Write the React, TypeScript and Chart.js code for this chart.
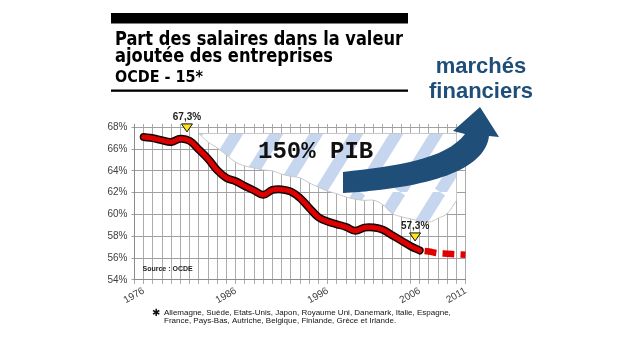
import React, { useEffect, useRef } from "react";
import { Chart, registerables } from "chart.js";

Chart.register(...registerables);

// ---- data ----
const years = [1976, 1977, 1978, 1979, 1980, 1981, 1982, 1983, 1984, 1985, 1986, 1987, 1988, 1989, 1990, 1991, 1992, 1993, 1994, 1995, 1996, 1997, 1998, 1999, 2000, 2001, 2002, 2003, 2004, 2005, 2006];
const wageShare = [67.1, 67.0, 66.8, 66.65, 66.95, 66.75, 65.95, 65.1, 64.05, 63.35, 63.05, 62.6, 62.2, 61.8, 62.25, 62.3, 62.1, 61.5, 60.6, 59.75, 59.35, 59.1, 58.85, 58.5, 58.8, 58.8, 58.6, 58.1, 57.6, 57.1, 56.7];
const projYears = [2006, 2007, 2008, 2009, 2010, 2011];
const projShare = [56.7, 56.6, 56.45, 56.4, 56.35, 56.3];
const hatchYears = [1982, 1983, 1984, 1985, 1986, 1987, 1988, 1989, 1990, 1991, 1992, 1993, 1994, 1995, 1996, 1997, 1998, 1999, 2000, 2001, 2002, 2003, 2004, 2005, 2006, 2007, 2008, 2009, 2010];
const hatchBottom = [67.43, 66.65, 66.1, 65.46, 64.8, 64.45, 64.27, 64.08, 64.0, 63.7, 63.5, 63.35, 62.9, 62.5, 62.15, 61.9, 61.6, 61.4, 61.3, 61.3, 60.9, 60.1, 59.8, 59.6, 59.4, 59.3, 59.65, 60.1, 61.3];
const hatchTopValue = 67.43;
const yTicks = [54, 56, 58, 60, 62, 64, 66, 68];
const gridYears = [1975, 1976, 1977, 1978, 1979, 1980, 1981, 1982, 1983, 1984, 1985, 1986, 1987, 1988, 1989, 1990, 1991, 1992, 1993, 1994, 1995, 1996, 1997, 1998, 1999, 2000, 2001, 2002, 2003, 2004, 2005, 2006, 2007, 2008, 2009, 2010, 2011];
const xLabelYears = [1976, 1986, 1996, 2006, 2011];
const markerYears = [1980.7, 2005.5];
const markerValues = [67.3, 57.3];
const markerLabels = ["67,3%", "57,3%"];
const titleLines = ["Part des salaires dans la valeur", "ajoutée des entreprises"];
const subtitle = "OCDE - 15*";
const hatchLabel = "150% PIB";
const arrowLabel = ["marchés", "financiers"];
const sourceLabel = "Source : OCDE";
const footnoteLines = [
  "Allemagne, Suède, Etats-Unis, Japon, Royaume Uni, Danemark, Italie, Espagne,",
  "France, Pays-Bas, Autriche, Belgique, Finlande, Grèce et Irlande.",
];

const SANS = 'Arial, "Liberation Sans", sans-serif';
const BLUE = "#1f4e79";

function makePattern(): CanvasPattern | string {
  const c = document.createElement("canvas");
  c.width = 40;
  c.height = 64;
  const g = c.getContext("2d");
  if (!g) return "#dde6f3";
  g.fillStyle = "#ffffff";
  g.fillRect(0, 0, 40, 64);
  g.strokeStyle = "#c5d6ee";
  g.lineWidth = 12;
  for (let k = -1; k <= 1; k++) {
    g.beginPath();
    g.moveTo(k * 40, 64);
    g.lineTo(k * 40 + 40, 0);
    g.stroke();
  }
  return g.createPattern(c, "repeat") || "#dde6f3";
}

const decorPlugin = {
  id: "decor",
  afterDatasetsDraw(chart: any) {
    const ctx = chart.ctx as CanvasRenderingContext2D;
    const xs = chart.scales.x;
    const ys = chart.scales.y;
    ctx.save();
    // right edge of hatched zone
    const lastX = xs.getPixelForValue(hatchYears[hatchYears.length - 1]);
    ctx.strokeStyle = "#c8c8c8";
    ctx.lineWidth = 1;
    ctx.beginPath();
    ctx.moveTo(lastX, ys.getPixelForValue(hatchTopValue));
    ctx.lineTo(lastX, ys.getPixelForValue(hatchBottom[hatchBottom.length - 1]));
    ctx.stroke();

    // 150% PIB
    ctx.fillStyle = "#111";
    ctx.font = 'bold 24px "Liberation Mono", "Courier New", monospace';
    ctx.textAlign = "left";
    ctx.textBaseline = "alphabetic";
    ctx.fillText(hatchLabel, 258, 158);

    // arrow
    ctx.fillStyle = BLUE;
    ctx.beginPath();
    ctx.moveTo(343, 172);
    ctx.bezierCurveTo(395, 166, 445, 160, 465, 134);
    ctx.lineTo(453, 131);
    ctx.lineTo(480, 107);
    ctx.lineTo(499, 137);
    ctx.lineTo(489, 136);
    ctx.bezierCurveTo(485, 170, 430, 188, 343, 193);
    ctx.closePath();
    ctx.fill();

    // markers
    for (let i = 0; i < markerYears.length; i++) {
      const px = xs.getPixelForValue(markerYears[i]);
      const tip = ys.getPixelForValue(markerValues[i]) - 3;
      ctx.beginPath();
      ctx.moveTo(px, tip);
      ctx.lineTo(px - 5.5, tip - 8);
      ctx.lineTo(px + 5.5, tip - 8);
      ctx.closePath();
      ctx.fillStyle = "#ffe21a";
      ctx.fill();
      ctx.strokeStyle = "#111";
      ctx.lineWidth = 1;
      ctx.stroke();
      ctx.fillStyle = "#222";
      ctx.font = `bold 10px ${SANS}`;
      ctx.textAlign = "center";
      ctx.fillText(markerLabels[i], px, tip - 12);
    }
    ctx.restore();
  },
  afterDraw(chart: any) {
    const ctx = chart.ctx as CanvasRenderingContext2D;
    ctx.save();
    // top bar
    ctx.fillStyle = "#000";
    ctx.fillRect(111, 13, 297, 10.5);
    ctx.fillRect(111, 89.5, 297, 2.3);
    // title
    ctx.textAlign = "left";
    ctx.textBaseline = "alphabetic";
    try {
      (ctx as any).fontStretch = "condensed";
    } catch (e) {}
    ctx.font = 'bold 19px "DejaVu Sans Condensed", "DejaVu Sans", sans-serif';
    ctx.fillText(titleLines[0], 115, 45, 288);
    ctx.fillText(titleLines[1], 115, 61.7, 218);
    ctx.font = 'bold 16px "DejaVu Sans Condensed", "DejaVu Sans", sans-serif';
    ctx.fillText(subtitle, 115, 81.7, 88);
    try {
      (ctx as any).fontStretch = "normal";
    } catch (e) {}

    // marchés financiers
    ctx.fillStyle = BLUE;
    ctx.font = `bold 22px ${SANS}`;
    ctx.textAlign = "center";
    ctx.fillText(arrowLabel[0], 481, 73);
    ctx.fillText(arrowLabel[1], 481, 98);

    // source
    ctx.fillStyle = "#222";
    ctx.font = `bold 7px ${SANS}`;
    ctx.textAlign = "left";
    ctx.fillText(sourceLabel, 142.5, 270.5);

    // footnote
    ctx.fillStyle = "#111";
    ctx.font = '10px "DejaVu Sans", sans-serif';
    ctx.fillText("✱", 152, 316);
    ctx.font = `8px ${SANS}`;
    ctx.fillText(footnoteLines[0], 164, 314.5, 289);
    ctx.fillText(footnoteLines[1], 164, 323);
    ctx.restore();
  },
};

export default function App() {
  const ref = useRef<HTMLCanvasElement>(null);
  useEffect(() => {
    if (!ref.current) return;
    const pattern = makePattern();
    const chart = new Chart(ref.current, {
      type: "line",
      data: {
        datasets: [
          {
            label: "hatchTop",
            data: hatchYears.map((x) => ({ x, y: hatchTopValue })),
            borderColor: "#c8c8c8",
            borderWidth: 1,
            pointRadius: 0,
            fill: false,
            order: 4,
          },
          {
            label: "hatchBottom",
            data: hatchYears.map((x, i) => ({ x, y: hatchBottom[i] })),
            borderColor: "#c8c8c8",
            borderWidth: 1,
            pointRadius: 0,
            tension: 0.4,
            fill: 0,
            backgroundColor: pattern as any,
            order: 5,
          },
          {
            label: "outline",
            data: years.map((x, i) => ({ x, y: wageShare[i] })),
            borderColor: "#140000",
            borderWidth: 8,
            borderCapStyle: "round",
            borderJoinStyle: "round",
            pointRadius: 0,
            tension: 0.4,
            fill: false,
            order: 3,
          },
          {
            label: "Part des salaires",
            data: years.map((x, i) => ({ x, y: wageShare[i] })),
            borderColor: "#dd0000",
            borderWidth: 5,
            borderCapStyle: "round",
            borderJoinStyle: "round",
            pointRadius: 0,
            tension: 0.4,
            fill: false,
            order: 2,
          },
          {
            label: "Projection",
            data: projYears.map((x, i) => ({ x, y: projShare[i] })),
            borderColor: "#e00000",
            borderWidth: 6.5,
            borderDash: [12, 6],
            borderDashOffset: 13,
            pointRadius: 0,
            tension: 0.4,
            fill: false,
            order: 1,
          },
        ],
      },
      options: {
        animation: false,
        responsive: false,
        devicePixelRatio: 1,
        layout: { padding: { left: 94.5, right: 154.3, top: 124, bottom: 40.1 } },
        plugins: { legend: { display: false }, tooltip: { enabled: false } },
        scales: {
          x: {
            type: "linear",
            min: 1975,
            max: 2011,
            afterBuildTicks: (s: any) => {
              s.ticks = gridYears.map((v) => ({ value: v }));
            },
            afterFit: (s: any) => {
              s.height = 30;
            },
            ticks: {
              autoSkip: false,
              minRotation: 30,
              maxRotation: 30,
              color: "#404040",
              padding: 1,
              font: { family: SANS, size: 10 },
              callback: (v: any) => (xLabelYears.includes(Number(v)) ? String(v) : ""),
            },
            grid: { color: "#ababab", lineWidth: 1, tickLength: 4 },
            border: { color: "#8c8c8c" },
          },
          y: {
            min: 54,
            max: 68.3,
            afterBuildTicks: (s: any) => {
              s.ticks = yTicks.map((v) => ({ value: v }));
            },
            afterFit: (s: any) => {
              s.width = 40;
            },
            ticks: {
              color: "#404040",
              padding: 4,
              font: { family: SANS, size: 10 },
              callback: (v: any) => `${v}%`,
            },
            grid: { color: "#a0a0a0", lineWidth: 1, tickLength: 3 },
            border: { color: "#8c8c8c" },
          },
        },
      },
      plugins: [decorPlugin],
    });
    return () => chart.destroy();
  }, []);
  return (
    <div style={{ position: "fixed", left: 0, top: 0, width: 620, height: 350, background: "#fff" }}>
      <canvas ref={ref} width={620} height={350} style={{ display: "block", width: 620, height: 350 }} />
    </div>
  );
}
